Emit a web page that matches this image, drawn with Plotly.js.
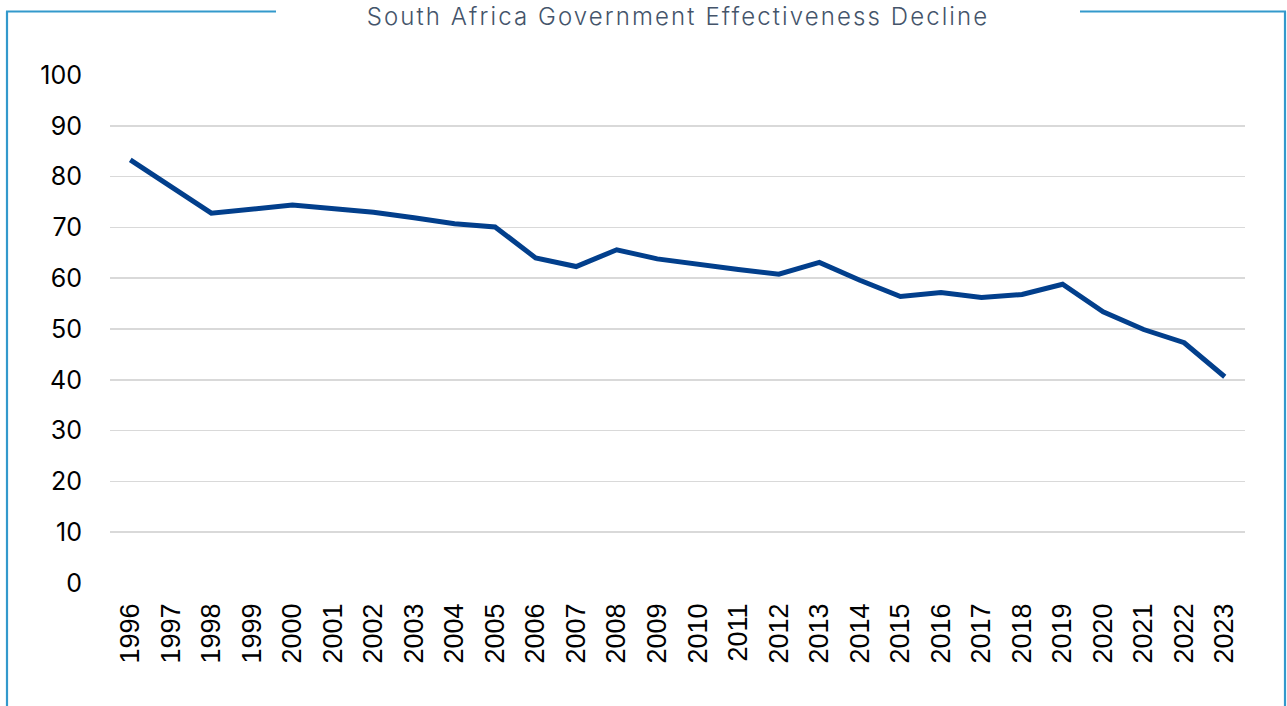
<!DOCTYPE html>
<html>
<head>
<meta charset="utf-8">
<script src="https://cdn.plot.ly/plotly-3.0.1.min.js"></script>
<style>html,body{margin:0;padding:0;background:#fff;}#chart{width:1287px;height:706px;}
.gtitle{letter-spacing:2.1px;}</style>
</head>
<body>
<div id="chart"></div>
<script>
const years = ["1996","1997","1998","1999","2000","2001","2002","2003","2004","2005","2006","2007","2008","2009","2010","2011","2012","2013","2014","2015","2016","2017","2018","2019","2020","2021","2022","2023"];
const effectiveness = [83.3,null,72.8,null,74.4,null,73.0,71.9,70.7,70.1,64.0,62.3,65.6,63.8,62.7,61.7,60.8,63.1,59.6,56.4,57.2,56.2,56.8,58.8,53.4,49.9,47.3,40.6];
const yTicks = [0,10,20,30,40,50,60,70,80,90,100];
const chartTitle = "South Africa Government Effectiveness Decline";

const W = 1287, H = 706, ml = 110, mr = 42, mt = 75, mb = 123;
const pw = W - ml - mr, ph = H - mt - mb;
const px = x => (x - ml) / pw;
const py = y => (H - mb - y) / ph;
const borderColor = "#3399CC";

const trace = {
  x: years, y: effectiveness, type: "scatter", mode: "lines",
  connectgaps: true,
  line: {color: "#023F8C", width: 5},
  hoverinfo: "x+y"
};

const layout = {
  width: W, height: H,
  margin: {l: ml, r: mr, t: mt, b: mb},
  paper_bgcolor: "#fff", plot_bgcolor: "#fff",
  showlegend: false,
  title: {text: chartTitle, x: 678 / W, xanchor: "center", y: 1 - 17/H, yanchor: "middle",
          font: {family: "Inter, 'Open Sans', sans-serif", size: 24, weight: 350, color: "#44546A"}},
  xaxis: {type: "category", range: [-0.5, years.length - 0.5], tickangle: -90, showgrid: false, zeroline: false, showline: false,
          ticks: "", ticklabelstandoff: 14,
          tickfont: {family: "'Liberation Sans', Arial, sans-serif", size: 27, color: "#000"}},
  yaxis: {range: [0, 100], tickvals: yTicks, ticktext: yTicks.map(String), showgrid: true,
          gridcolor: "#D9D9D9", gridwidth: 1.6, zeroline: false, showline: false, ticks: "",
          ticklabelstandoff: 27,
          tickfont: {family: "Inter, 'Open Sans', sans-serif", size: 25, color: "#000"}},
  shapes: [
    {type: "line", xref: "paper", yref: "paper", x0: px(7), x1: px(7), y0: py(11.5), y1: py(720), line: {color: borderColor, width: 2.2}},
    {type: "line", xref: "paper", yref: "paper", x0: px(1285), x1: px(1285), y0: py(11.5), y1: py(720), line: {color: borderColor, width: 2.2}},
    {type: "line", xref: "paper", yref: "paper", x0: px(6), x1: px(276), y0: py(11.5), y1: py(11.5), line: {color: borderColor, width: 2.2}},
    {type: "line", xref: "paper", yref: "paper", x0: px(1080), x1: px(1286), y0: py(11.5), y1: py(11.5), line: {color: borderColor, width: 2.2}}
  ]
};

Plotly.newPlot("chart", [trace], layout, {displayModeBar: false, staticPlot: true});
</script>
</body>
</html>
